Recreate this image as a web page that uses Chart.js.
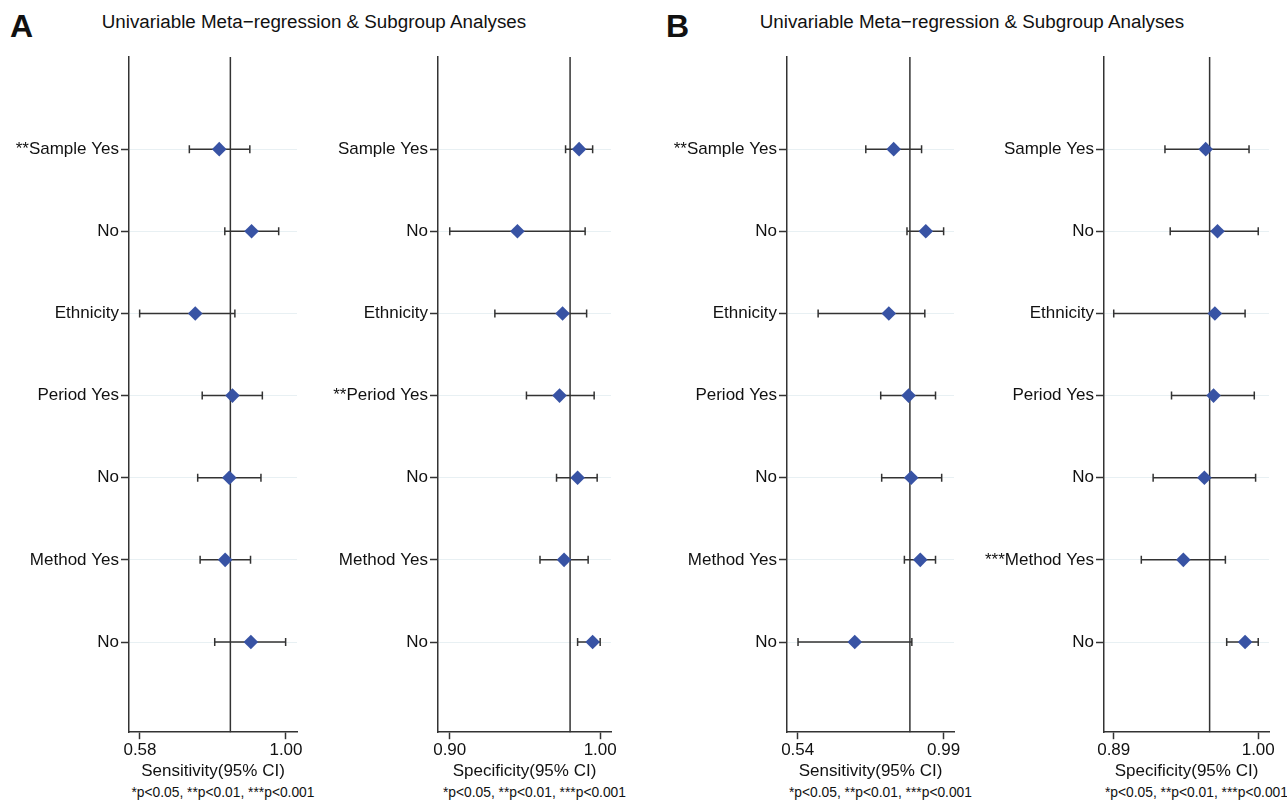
<!DOCTYPE html>
<html><head><meta charset="utf-8">
<script src="https://cdn.jsdelivr.net/npm/chart.js@4.4.0/dist/chart.umd.min.js"></script>
<style>
html,body{margin:0;padding:0;background:#fff;width:1287px;height:802px;overflow:hidden;position:relative;font-family:'Liberation Sans',Arial,Helvetica,sans-serif;color:#111}
canvas{position:absolute;top:0}
.txt{position:absolute;white-space:nowrap}
.letter{font-weight:bold;font-size:32px;line-height:32px;top:10px}
.title{font-size:18.8px;line-height:19px;top:12px;text-align:center;width:500px}
.foot{font-size:13.8px;line-height:14px;top:786px;text-align:center;width:240px}
</style></head><body>
<div class="txt letter" style="left:10px">A</div>
<div class="txt letter" style="left:666px">B</div>
<div class="txt title" style="left:64px">Univariable Meta−regression &amp; Subgroup Analyses</div>
<div class="txt title" style="left:722px">Univariable Meta−regression &amp; Subgroup Analyses</div>
<canvas id="c1"></canvas><canvas id="c2"></canvas><canvas id="c3"></canvas><canvas id="c4"></canvas>
<div id="feet"></div>
<script>
// ---- data ----
const labelsASens = ['**Sample Yes','No','Ethnicity','Period Yes','No','Method Yes','No'];
const labelsASpec = ['Sample Yes','No','Ethnicity','**Period Yes','No','Method Yes','No'];
const labelsBSens = ['**Sample Yes','No','Ethnicity','Period Yes','No','Method Yes','No'];
const labelsBSpec = ['Sample Yes','No','Ethnicity','Period Yes','No','***Method Yes','No'];

const aSensEst = [0.808,0.901,0.739,0.846,0.837,0.825,0.899];
const aSensLo  = [0.722,0.824,0.579,0.759,0.746,0.753,0.795];
const aSensHi  = [0.896,0.979,0.853,0.932,0.928,0.898,0.999];
const aSensPooled = 0.840;

const aSpecEst = [0.986,0.945,0.975,0.973,0.985,0.976,0.995];
const aSpecLo  = [0.977,0.900,0.930,0.951,0.971,0.960,0.985];
const aSpecHi  = [0.995,0.990,0.991,0.996,0.998,0.992,1.000];
const aSpecPooled = 0.980;

const bSensEst = [0.836,0.935,0.821,0.882,0.890,0.918,0.716];
const bSensLo  = [0.750,0.877,0.603,0.796,0.799,0.869,0.541];
const bSensHi  = [0.922,0.990,0.932,0.965,0.984,0.965,0.892];
const bSensPooled = 0.886;

const bSpecEst = [0.960,0.969,0.967,0.966,0.959,0.943,0.990];
const bSpecLo  = [0.929,0.933,0.890,0.934,0.920,0.911,0.976];
const bSpecHi  = [0.993,1.000,0.990,0.997,0.998,0.975,1.000];
const bSpecPooled = 0.963;

const aSensTicks = [0.58, 1.00];
const aSpecTicks = [0.90, 1.00];
const bSensTicks = [0.54, 0.99];
const bSpecTicks = [0.89, 1.00];

const xTitleSens = 'Sensitivity(95% CI)';
const xTitleSpec = 'Specificity(95% CI)';
const footnote = '*p<0.05, **p<0.01, ***p<0.001';

// ---- layout ----
const FONT = "'Liberation Sans', Arial, Helvetica, sans-serif";
const DARK = '#333333';
const CH = 782;
const panels = [
  {id:'c1', left:0,   width:310, yw:129, pr:13, min:0.5484, max:1.0317, labels:labelsASens, est:aSensEst, lo:aSensLo, hi:aSensHi, pooled:aSensPooled, ticks:aSensTicks, title:xTitleSens},
  {id:'c2', left:310, width:315, yw:128, pr:14, min:0.8922, max:1.0072, labels:labelsASpec, est:aSpecEst, lo:aSpecLo, hi:aSpecHi, pooled:aSpecPooled, ticks:aSpecTicks, title:xTitleSpec},
  {id:'c3', left:625, width:345, yw:162, pr:16, min:0.507,  max:1.022,  labels:labelsBSens, est:bSensEst, lo:bSensLo, hi:bSensHi, pooled:bSensPooled, ticks:bSensTicks, title:xTitleSens},
  {id:'c4', left:970, width:317, yw:134, pr:18, min:0.8826, max:1.0082, labels:labelsBSpec, est:bSpecEst, lo:bSpecLo, hi:bSpecHi, pooled:bSpecPooled, ticks:bSpecTicks, title:xTitleSpec}
];

const forestPlugin = {
  id: 'forest',
  beforeDatasetsDraw(chart, args, opts) {
    const {ctx, chartArea, scales:{x, y}} = chart;
    ctx.save();
    ctx.strokeStyle = DARK;
    ctx.lineWidth = 1.5;
    // reference line
    const px = x.getPixelForValue(opts.pooled);
    ctx.beginPath(); ctx.moveTo(px, chartArea.top); ctx.lineTo(px, chartArea.bottom); ctx.stroke();
    // CI bars
    opts.lo.forEach((lo, i) => {
      const yy = y.getPixelForValue(i);
      const x1 = x.getPixelForValue(lo), x2 = x.getPixelForValue(opts.hi[i]);
      ctx.beginPath();
      ctx.moveTo(x1, yy); ctx.lineTo(x2, yy);
      ctx.moveTo(x1, yy-4); ctx.lineTo(x1, yy+4);
      ctx.moveTo(x2, yy-4); ctx.lineTo(x2, yy+4);
      ctx.stroke();
    });
    ctx.restore();
  }
};

const feet = document.getElementById('feet');
panels.forEach(p => {
  const cv = document.getElementById(p.id);
  cv.style.left = p.left + 'px';
  cv.width = p.width; cv.height = CH;
  cv.style.width = p.width + 'px'; cv.style.height = CH + 'px';
  new Chart(cv, {
    type: 'scatter',
    data: { datasets: [{
      data: p.est.map((v, i) => ({x: v, y: i})),
      pointStyle: 'rectRot', pointRadius: 7.3, pointHoverRadius: 7.3,
      backgroundColor: '#3853a4', borderWidth: 0
    }]},
    plugins: [forestPlugin],
    options: {
      responsive: false, animation: false, devicePixelRatio: 1,
      layout: { padding: {top: 57, right: p.pr, bottom: 0, left: 0} },
      plugins: { legend: {display:false}, tooltip: {enabled:false},
        forest: {lo: p.lo, hi: p.hi, pooled: p.pooled} },
      scales: {
        x: {
          type: 'linear', min: p.min, max: p.max,
          afterBuildTicks: s => { s.ticks = p.ticks.map(v => ({value: v})); },
          ticks: { callback: v => Number(v).toFixed(2), font: {family: FONT, size: 17}, color: '#111', padding: 1, maxRotation: 0, autoSkip: false },
          grid: { drawOnChartArea: false, tickLength: 7, tickColor: DARK, tickWidth: 1.5 },
          border: { display: true, color: DARK, width: 1.5 },
          title: { display: true, text: p.title, font: {family: FONT, size: 17}, color: '#111', padding: {top: 0, bottom: 0} }
        },
        y: {
          type: 'linear', reverse: true, min: -1.122, max: 7.098,
          afterBuildTicks: s => { s.ticks = p.labels.map((_, i) => ({value: i})); },
          afterFit: s => { s.width = p.yw; },
          ticks: { callback: v => p.labels[v] ?? '', font: {family: FONT, size: 17}, color: '#111', padding: 2, autoSkip: false },
          grid: { color: '#e8f0f3', lineWidth: 1, tickLength: 8, tickColor: DARK, tickWidth: 1.5 },
          border: { display: true, color: DARK, width: 1.5 }
        }
      }
    }
  });
  const centre = p.left + p.yw + (p.width - p.yw - p.pr) / 2 + 10;
  const d = document.createElement('div');
  d.className = 'txt foot';
  d.style.left = (centre - 120) + 'px';
  d.textContent = footnote;
  feet.appendChild(d);
});
</script>
</body></html>
